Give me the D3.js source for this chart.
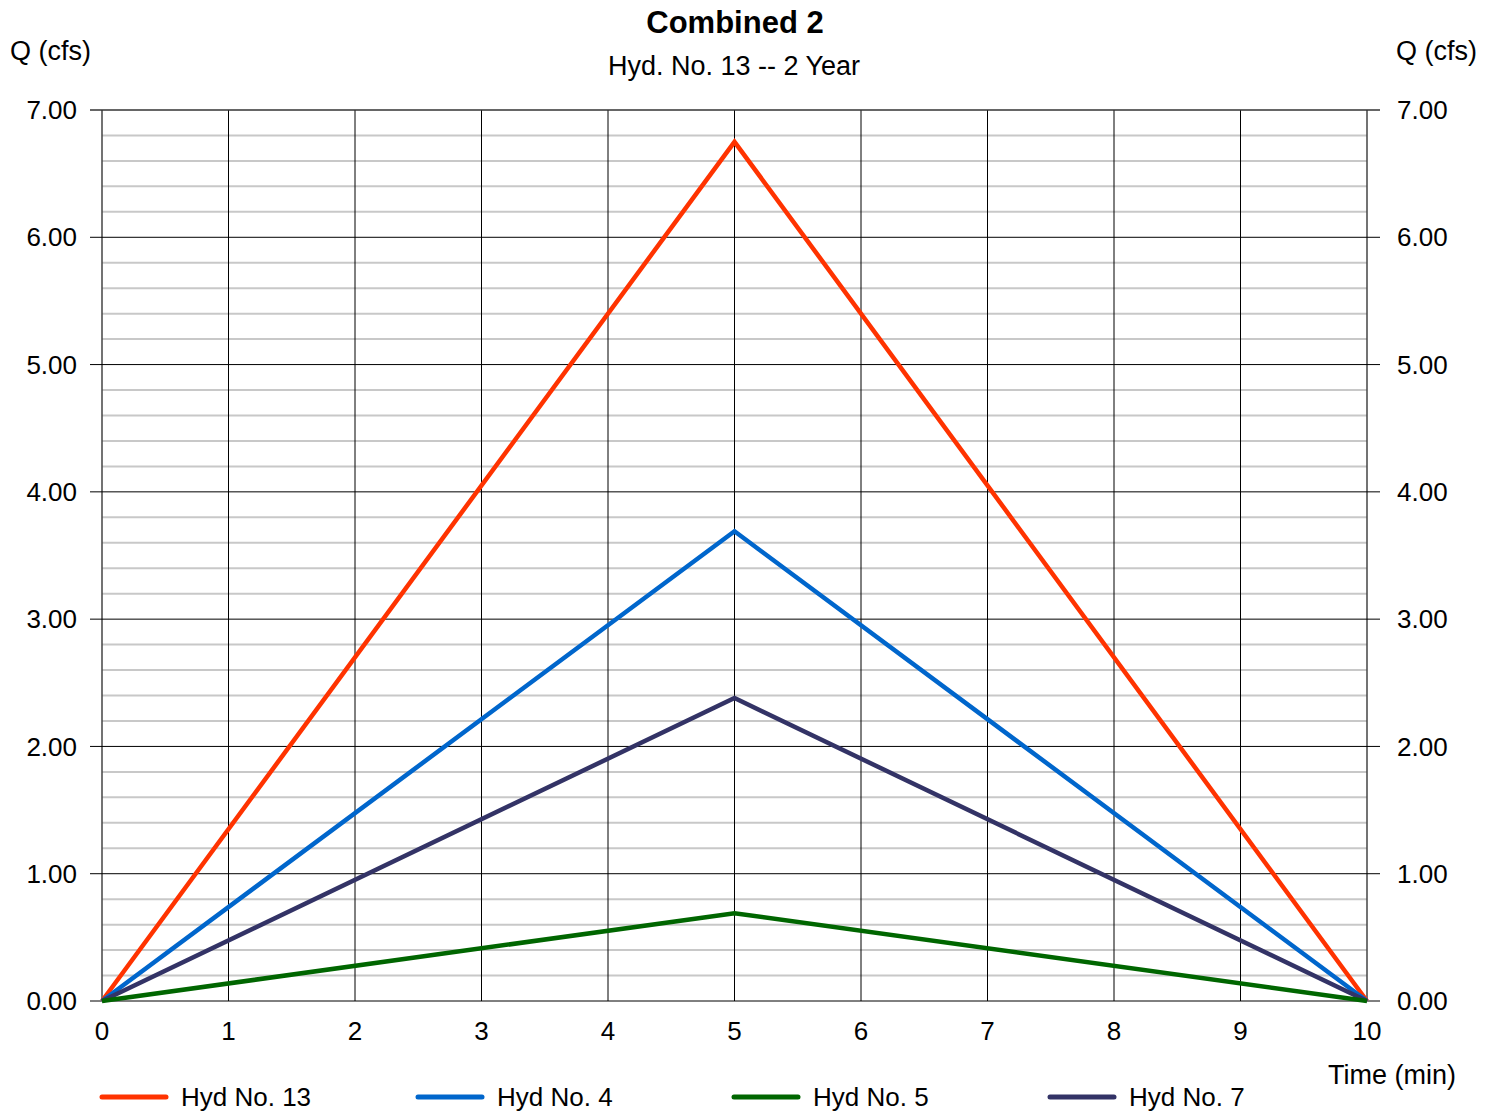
<!DOCTYPE html>
<html>
<head>
<meta charset="utf-8">
<script src="https://cdn.jsdelivr.net/npm/d3@7"></script>
<style>
  body { margin: 0; background: #fff; }
  text { font-family: "Liberation Sans", Arial, sans-serif; fill: #000; }
</style>
</head>
<body>
<div id="chart"></div>
<script>
// time in minutes (hydrograph vertices)
const times = [0, 5, 10];
const hyd13 = [0, 6.75, 0];
const hyd4 = [0, 3.69, 0];
const hyd5 = [0, 0.69, 0];
const hyd7 = [0, 2.38, 0];
const seriesNames = ["Hyd No. 13", "Hyd No. 4", "Hyd No. 5", "Hyd No. 7"];
const seriesColors = ["#ff3300", "#0066cc", "#006600", "#333366"];
const xTicks = [0, 1, 2, 3, 4, 5, 6, 7, 8, 9, 10];
const yTicks = [0, 1, 2, 3, 4, 5, 6, 7];

(function(){
  const width = 1494, height = 1114;
  const margin = { top: 110, right: 127, bottom: 113, left: 102 };

  const svg = d3.select("#chart").append("svg")
    .attr("width", width)
    .attr("height", height);

  const x = d3.scaleLinear().domain([0, 10]).range([margin.left, width - margin.right]);
  const y = d3.scaleLinear().domain([0, 7]).range([height - margin.bottom, margin.top]);

  // minor gridlines every 0.2
  const minor = d3.range(1, 35).map(d => d / 5).filter(d => Math.abs(d - Math.round(d)) > 1e-6);
  svg.append("g").selectAll("line")
    .data(minor)
    .enter().append("line")
    .attr("x1", x(0)).attr("x2", x(10))
    .attr("y1", d => y(d)).attr("y2", d => y(d))
    .attr("stroke", "#c8c8c8")
    .attr("stroke-width", 2);

  // vertical gridlines
  svg.append("g").selectAll("line")
    .data(xTicks)
    .enter().append("line")
    .attr("x1", d => x(d)).attr("x2", d => x(d))
    .attr("y1", y(7)).attr("y2", y(0))
    .attr("stroke", d => (d === 0 || d === 10) ? "#444" : "#000")
    .attr("stroke-width", d => (d === 0 || d === 10) ? 1.5 : 1);

  // major horizontal lines with ticks on both sides
  svg.append("g").selectAll("line")
    .data(yTicks)
    .enter().append("line")
    .attr("x1", x(0) - 12).attr("x2", x(10) + 13)
    .attr("y1", d => y(d)).attr("y2", d => y(d))
    .attr("stroke", d => d === 7 ? "#333" : "#000")
    .attr("stroke-width", d => d === 7 ? 1.5 : 1);

  // y tick labels (left and right)
  svg.append("g").selectAll("text")
    .data(yTicks)
    .enter().append("text")
    .attr("x", x(0) - 25)
    .attr("y", d => y(d))
    .attr("dy", "0.35em")
    .attr("text-anchor", "end")
    .style("font-size", "26px")
    .text(d => d.toFixed(2));

  svg.append("g").selectAll("text")
    .data(yTicks)
    .enter().append("text")
    .attr("x", x(10) + 30)
    .attr("y", d => y(d))
    .attr("dy", "0.35em")
    .attr("text-anchor", "start")
    .style("font-size", "26px")
    .text(d => d.toFixed(2));

  // x tick labels
  svg.append("g").selectAll("text")
    .data(xTicks)
    .enter().append("text")
    .attr("x", d => x(d))
    .attr("y", y(0) + 30)
    .attr("dy", "0.35em")
    .attr("text-anchor", "middle")
    .style("font-size", "26px")
    .text(d => d);

  // series lines
  const allSeries = [hyd13, hyd4, hyd5, hyd7];
  const line = d3.line().x((d, i) => x(times[i])).y(d => y(d));
  const drawOrder = [0, 1, 3, 2];
  svg.append("g").selectAll("path")
    .data(drawOrder)
    .enter().append("path")
    .attr("d", i => line(allSeries[i]))
    .attr("fill", "none")
    .attr("stroke", i => seriesColors[i])
    .attr("stroke-width", 4.5)
    .attr("stroke-linejoin", "miter");

  // titles
  svg.append("text")
    .attr("x", 735).attr("y", 22).attr("dy", "0.35em")
    .attr("text-anchor", "middle")
    .style("font-size", "31px").style("font-weight", "bold")
    .text("Combined 2");
  svg.append("text")
    .attr("x", 734).attr("y", 66).attr("dy", "0.35em")
    .attr("text-anchor", "middle")
    .style("font-size", "27px")
    .text("Hyd. No. 13 -- 2 Year");

  svg.append("text")
    .attr("x", 10).attr("y", 51).attr("dy", "0.35em")
    .style("font-size", "27px")
    .text("Q (cfs)");
  svg.append("text")
    .attr("x", 1477).attr("y", 51).attr("dy", "0.35em")
    .attr("text-anchor", "end")
    .style("font-size", "27px")
    .text("Q (cfs)");
  svg.append("text")
    .attr("x", 1456).attr("y", 1075).attr("dy", "0.35em")
    .attr("text-anchor", "end")
    .style("font-size", "27px")
    .text("Time (min)");

  // legend
  const legend = svg.append("g").selectAll("g")
    .data(seriesNames)
    .enter().append("g")
    .attr("transform", (d, i) => `translate(${102 + i * 316}, 1097)`);
  legend.append("line")
    .attr("x1", 0).attr("x2", 64)
    .attr("stroke", (d, i) => seriesColors[i])
    .attr("stroke-width", 5)
    .attr("stroke-linecap", "round");
  legend.append("text")
    .attr("x", 79).attr("dy", "0.35em")
    .style("font-size", "26px")
    .text(d => d);
})();
</script>
</body>
</html>
